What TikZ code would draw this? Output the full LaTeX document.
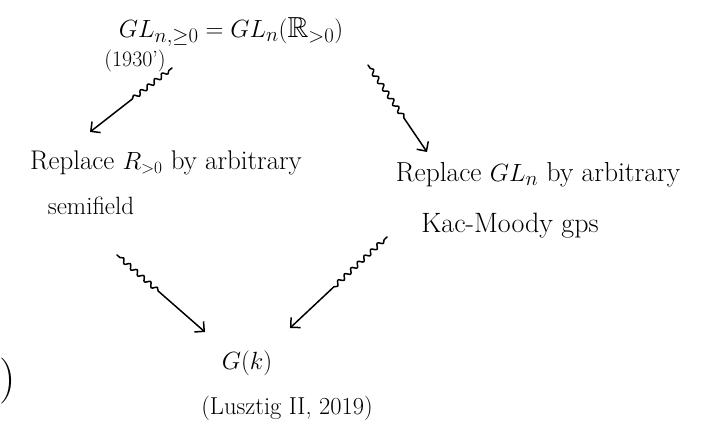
\documentclass[tikz,border=0pt]{standalone}
\usepackage{amssymb}
\usetikzlibrary{arrows.meta,decorations.pathmorphing}
\tikzset{
  txt/.style={inner sep=0pt, font=\fontsize{27}{32}\selectfont},
  small/.style={inner sep=0pt, font=\fontsize{22}{26}\selectfont},
  squig/.style={line width=1.5pt, line cap=round, line join=round,
    -{Straight Barb[length=7pt,width=14pt,line width=1.5pt]},
    decorate, decoration={snake, amplitude=2.2pt, segment length=9pt,
      pre length=4pt, post length=#1}},
  squig/.default=40pt
}
\begin{document}
\begin{tikzpicture}[x=1pt,y=-1pt]
\useasboundingbox (0,0) rectangle (718,428);
% nodes
\node[txt, font=\fontsize{29}{34}\selectfont] (top) at (231,32) {$GL_{n,\geq 0} = GL_n(\mathbb{R}_{>0})$};
\node[small] (year) at (135,61) {(1930')};
\node[txt] (left1) at (166,163) {Replace $R_{>0}$ by arbitrary};
\node[txt, font=\fontsize{25}{30}\selectfont] (left2) at (91,206) {semifield};
\node[txt, font=\fontsize{27.5}{32}\selectfont] (right1) at (538,175) {Replace $GL_n$ by arbitrary};
\node[txt, font=\fontsize{28}{33}\selectfont] (right2) at (510,226) {Kac-Moody gps};
\node[txt, font=\fontsize{29}{34}\selectfont] (gk) at (247,363) {$G(k)$};
\node[txt, font=\fontsize{24.5}{29}\selectfont] (lus) at (287,408) {(Lusztig II, 2019)};
\node[inner sep=0pt, anchor=west, font=\fontsize{46}{50}\selectfont] (paren) at (-1,381) {)};
% arrow end points
\coordinate (a1s) at (172,68);
\coordinate (a1e) at (90,132);
\coordinate (a2s) at (368,65);
\coordinate (a2e) at (427,152);
\coordinate (a3s) at (117,255);
\coordinate (a3e) at (205,332);
\coordinate (a4s) at (387,237);
\coordinate (a4e) at (290,328);
% arrows
\draw[squig=50pt] (a1s) -- (a1e);
\draw[squig=40pt] (a2s) -- (a2e);
\draw[squig=60pt] (a3s) -- (a3e);
\draw[squig=60pt] (a4s) -- (a4e);
\end{tikzpicture}
\end{document}
